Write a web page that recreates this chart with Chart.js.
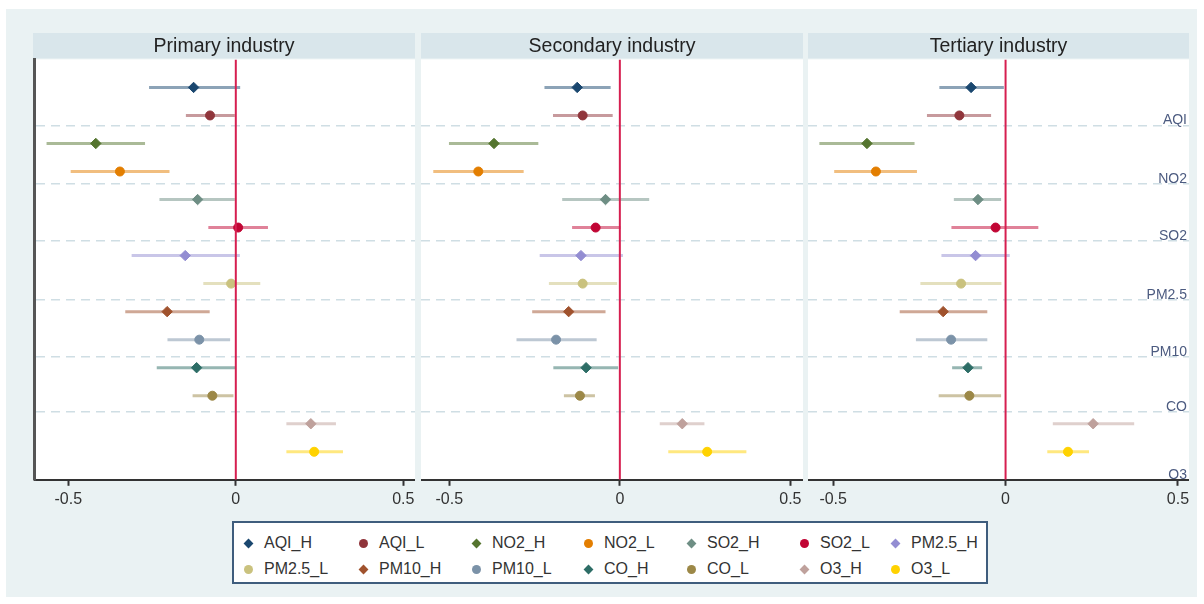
<!DOCTYPE html>
<html>
<head>
<meta charset="utf-8">
<script src="https://cdn.jsdelivr.net/npm/chart.js@4.4.1/dist/chart.umd.min.js"></script>
<style>
  html, body { margin: 0; padding: 0; background: #ffffff; }
  #bg { position: absolute; left: 6px; top: 9px; width: 1191px; height: 588px; background: #eaf2f3; }
  .panel { position: absolute; top: 33px; }
  #legend { position: absolute; left: 232px; top: 521px; width: 756px; height: 63px; background: #ffffff;
            border: 2px solid #3f5d7d; box-sizing: border-box;
            font-family: 'Liberation Sans', Arial, sans-serif; font-size: 16px; color: #333; }
  .lg-item { position: absolute; height: 20px; line-height: 20px; white-space: nowrap; }
  .lg-mark { position: absolute; top: 50%; }
  .lg-text { position: absolute; left: 16px; top: 0; }
</style>
</head>
<body>
<div id="bg"></div>
<canvas id="p0" class="panel" width="382" height="480" style="left:33px"></canvas>
<canvas id="p1" class="panel" width="382" height="480" style="left:421px"></canvas>
<canvas id="p2" class="panel" width="381" height="480" style="left:808px"></canvas>
<div id="legend"></div>
<script>
// ---------------- data ----------------
const seriesNames = ['AQI_H','AQI_L','NO2_H','NO2_L','SO2_H','SO2_L','PM2.5_H','PM2.5_L','PM10_H','PM10_L','CO_H','CO_L','O3_H','O3_L'];
const rowPositions = [1,2,3,4,5,6,7,8,9,10,11,12,13,14];
const panelTitles = ['Primary industry','Secondary industry','Tertiary industry'];
const pollutantLabels = ['AQI','NO2','SO2','PM2.5','PM10','CO','O3'];
const pollutantTickPos = [2.35,4.45,6.48,8.59,10.62,12.58,15];
const xTickValues = [-0.5, 0, 0.5];

const primaryEst = [-0.126,-0.077,-0.418,-0.346,-0.114,0.007,-0.151,-0.014,-0.205,-0.109,-0.117,-0.070,0.224,0.234];
const primaryLo  = [-0.259,-0.149,-0.565,-0.493,-0.228,-0.082,-0.311,-0.097,-0.330,-0.204,-0.236,-0.129,0.151,0.151];
const primaryHi  = [0.013,-0.003,-0.271,-0.198,-0.003,0.096,0.012,0.073,-0.078,-0.017,-0.002,-0.007,0.299,0.320];

const secondaryEst = [-0.125,-0.109,-0.369,-0.415,-0.042,-0.071,-0.114,-0.109,-0.150,-0.187,-0.099,-0.117,0.183,0.256];
const secondaryLo  = [-0.221,-0.196,-0.501,-0.547,-0.169,-0.140,-0.235,-0.208,-0.257,-0.303,-0.195,-0.164,0.117,0.142];
const secondaryHi  = [-0.027,-0.021,-0.239,-0.282,0.086,0.002,0.009,-0.008,-0.042,-0.068,-0.005,-0.073,0.248,0.371];

const tertiaryEst = [-0.100,-0.134,-0.402,-0.376,-0.080,-0.029,-0.087,-0.129,-0.181,-0.158,-0.109,-0.105,0.254,0.181];
const tertiaryLo  = [-0.192,-0.228,-0.540,-0.497,-0.150,-0.157,-0.186,-0.247,-0.307,-0.260,-0.155,-0.194,0.137,0.121];
const tertiaryHi  = [-0.005,-0.042,-0.264,-0.257,-0.013,0.095,0.012,-0.012,-0.053,-0.053,-0.068,-0.013,0.373,0.242];

// ---------------- styles ----------------
const seriesColors = ['#1a476f','#90353b','#55752f','#e37e00','#6e8e84','#c10534','#938dd2','#cac27e','#a0522d','#7b92a8','#2d6d66','#9c8847','#bfa19c','#ffd200'];
const seriesShapes = seriesNames.map(n => n.endsWith('_H') ? 'rectRot' : 'circle');
const panelXRange = [[-0.601, 0.535], [-0.583, 0.537], [-0.573, 0.532]];

function alpha(hex, a) {
  const r = parseInt(hex.slice(1,3),16), g = parseInt(hex.slice(3,5),16), b = parseInt(hex.slice(5,7),16);
  return `rgba(${r},${g},${b},${a})`;
}

Chart.defaults.font.family = "'Liberation Sans', Arial, sans-serif";
Chart.defaults.color = '#333';

const panelBg = {
  id: 'panelBg',
  beforeDraw(chart) {
    const { ctx, chartArea: a, width } = chart;
    ctx.save();
    ctx.fillStyle = '#d9e6eb';
    ctx.fillRect(0, 0, width, a.top - 1);
    ctx.fillStyle = '#ffffff';
    ctx.fillRect(0, a.top, width, a.bottom - a.top);
    ctx.restore();
  }
};

const panelData = [
  [primaryEst, primaryLo, primaryHi],
  [secondaryEst, secondaryLo, secondaryHi],
  [tertiaryEst, tertiaryLo, tertiaryHi]
];

panelData.forEach(([est, lo, hi], p) => {
  const datasets = seriesNames.map((name, i) => ({
    label: name,
    data: [{x: lo[i], y: rowPositions[i]}, {x: est[i], y: rowPositions[i]}, {x: hi[i], y: rowPositions[i]}],
    showLine: true,
    borderColor: alpha(seriesColors[i], 0.5),
    borderWidth: 3,
    pointStyle: seriesShapes[i],
    pointRadius: [0, seriesShapes[i] === 'circle' ? 4.5 : 5.2, 0],
    pointBackgroundColor: seriesColors[i],
    pointBorderColor: seriesColors[i],
    pointBorderWidth: 1,
    order: 1
  }));
  datasets.push({
    label: 'zero',
    data: [{x: 0, y: 0}, {x: 0, y: 15}],
    showLine: true,
    borderColor: '#d61f50',
    borderWidth: 2,
    pointRadius: 0,
    order: 0
  });

  const isLast = p === 2;
  new Chart(document.getElementById('p' + p), {
    type: 'scatter',
    data: { datasets },
    plugins: [panelBg],
    options: {
      responsive: false,
      animation: false,
      events: [],
      layout: { padding: 0 },
      plugins: {
        legend: { display: false },
        tooltip: { enabled: false },
        title: {
          display: true,
          text: panelTitles[p],
          color: '#222',
          font: { size: 19.5, weight: 'normal' },
          padding: { top: 2, bottom: 1 }
        }
      },
      scales: {
        x: {
          type: 'linear',
          min: panelXRange[p][0],
          max: panelXRange[p][1],
          afterBuildTicks: s => { s.ticks = xTickValues.map(v => ({ value: v })); },
          afterFit: s => { s.paddingLeft = 0; s.paddingRight = 0; },
          ticks: {
            color: '#333',
            font: { size: 16 },
            padding: 4,
            maxRotation: 0,
            autoSkip: false,
            callback: v => (v === 0 ? '0' : String(v))
          },
          grid: { drawOnChartArea: false, drawTicks: true, tickLength: 6, tickWidth: 2, tickColor: '#333' },
          border: { display: true, color: '#333', width: 2 }
        },
        y: {
          type: 'linear',
          position: isLast ? 'right' : 'left',
          min: 0,
          max: 15,
          reverse: true,
          afterBuildTicks: s => { s.ticks = pollutantTickPos.map(v => ({ value: v })); },
          afterFit: s => { s.width = p === 0 ? 1.5 : 0; s.paddingTop = 0; s.paddingBottom = 0; },
          ticks: {
            display: isLast,
            mirror: true,
            padding: -2,
            labelOffset: -5,
            color: '#4c5b80',
            font: { size: 14 },
            autoSkip: false,
            callback: (v, idx) => pollutantLabels[idx]
          },
          grid: { drawTicks: false, color: '#cfdee4', lineWidth: 1.5 },
          border: { display: p === 0, color: '#555', width: 3, dash: [9, 6] }
        }
      }
    }
  });
});

// ---------------- legend (HTML) ----------------
const legendColX = [246, 361, 474, 586, 689, 802, 893];
const legendRowY = [541, 567];
const lg = document.getElementById('legend');
seriesNames.forEach((name, i) => {
  const col = i % 7, row = Math.floor(i / 7);
  const item = document.createElement('div');
  item.className = 'lg-item';
  item.style.left = (legendColX[col] - 232) + 'px';
  item.style.top = (legendRowY[row] - 521 - 10) + 'px';
  const mk = document.createElement('div');
  mk.className = 'lg-mark';
  if (seriesShapes[i] === 'circle') {
    mk.style.cssText = `left:-4.5px;margin-top:-4.5px;width:9px;height:9px;border-radius:50%;background:${seriesColors[i]}`;
  } else {
    mk.style.cssText = `left:-3.5px;margin-top:-3.5px;width:7px;height:7px;transform:rotate(45deg);background:${seriesColors[i]}`;
  }
  const tx = document.createElement('span');
  tx.className = 'lg-text';
  tx.textContent = name;
  item.appendChild(mk);
  item.appendChild(tx);
  lg.appendChild(item);
});
</script>
</body>
</html>
